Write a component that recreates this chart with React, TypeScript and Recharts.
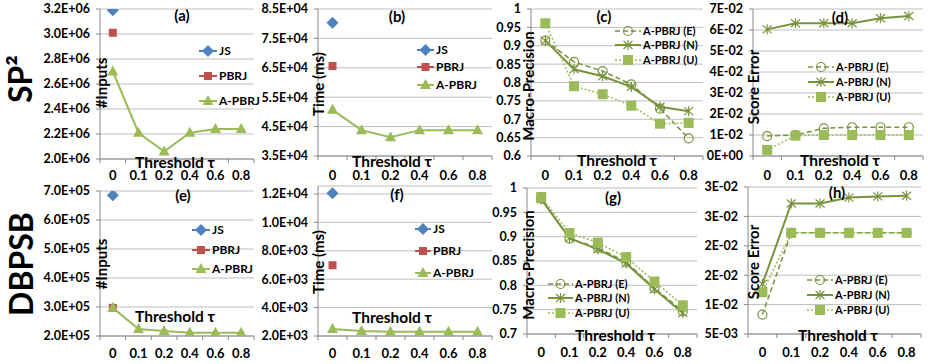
import { LineChart, Line, XAxis, YAxis, CartesianGrid } from 'recharts'

const thresholds = ['0', '0.1', '0.2', '0.4', '0.6', '0.8']

// SP2 dataset
const sp2InputsJS = [3190000, null, null, null, null, null]
const sp2InputsPBRJ = [3010000, null, null, null, null, null]
const sp2InputsAPBRJ = [2700000, 2210000, 2060000, 2210000, 2240000, 2240000]
const sp2TimeJS = [80300, null, null, null, null, null]
const sp2TimePBRJ = [65600, null, null, null, null, null]
const sp2TimeAPBRJ = [50700, 43800, 41400, 43800, 43800, 43800]
const sp2PrecE = [0.914, 0.856, 0.831, 0.795, 0.729, 0.648]
const sp2PrecN = [0.914, 0.836, 0.817, 0.788, 0.734, 0.722]
const sp2PrecU = [0.961, 0.79, 0.768, 0.737, 0.688, 0.69]
const sp2ErrE = [0.0095, 0.01, 0.0132, 0.0137, 0.0137, 0.0137]
const sp2ErrN = [0.0603, 0.0632, 0.0632, 0.0632, 0.0656, 0.0667]
const sp2ErrU = [0.0029, 0.0097, 0.01, 0.01, 0.01, 0.01]

// DBPSB dataset
const dbInputsJS = [685000, null, null, null, null, null]
const dbInputsPBRJ = [297000, null, null, null, null, null]
const dbInputsAPBRJ = [297000, 224000, 217000, 211000, 211000, 211000]
const dbTimeJS = [12050, null, null, null, null, null]
const dbTimePBRJ = [6980, null, null, null, null, null]
const dbTimeAPBRJ = [2500, 2350, 2300, 2300, 2300, 2300]
const dbPrecE = [0.978, 0.896, 0.877, 0.848, 0.794, 0.747]
const dbPrecN = [0.977, 0.897, 0.874, 0.845, 0.792, 0.743]
const dbPrecU = [0.9815, 0.9075, 0.888, 0.858, 0.808, 0.759]
const dbErrE = [0.0083, 0.0222, 0.0222, 0.0222, 0.0222, 0.0222]
const dbErrN = [0.0135, 0.0272, 0.0272, 0.0282, 0.0284, 0.0285]
const dbErrU = [0.0121, 0.0222, 0.0222, 0.0222, 0.0222, 0.0222]

// y-axis ticks and their labels
const ticksA = [2000000, 2200000, 2400000, 2600000, 2800000, 3000000, 3200000]
const labelsA = ['2.0E+06', '2.2E+06', '2.4E+06', '2.6E+06', '2.8E+06', '3.0E+06', '3.2E+06']
const ticksB = [35000, 45000, 55000, 65000, 75000, 85000]
const labelsB = ['3.5E+04', '4.5E+04', '5.5E+04', '6.5E+04', '7.5E+04', '8.5E+04']
const ticksC = [0.6, 0.65, 0.7, 0.75, 0.8, 0.85, 0.9, 0.95, 1]
const labelsC = ['0.6', '0.65', '0.7', '0.75', '0.8', '0.85', '0.9', '0.95', '1']
const ticksD = [0, 0.01, 0.02, 0.03, 0.04, 0.05, 0.06, 0.07]
const labelsD = ['0E+00', '1E-02', '2E-02', '3E-02', '4E-02', '5E-02', '6E-02', '7E-02']
const ticksE = [200000, 300000, 400000, 500000, 600000, 700000]
const labelsE = ['2.0E+05', '3.0E+05', '4.0E+05', '5.0E+05', '6.0E+05', '7.0E+05']
const ticksF = [2000, 4000, 6000, 8000, 10000, 12000]
const labelsF = ['2.0E+03', '4.0E+03', '6.0E+03', '8.0E+03', '1.0E+04', '1.2E+04']
const ticksG = [0.7, 0.75, 0.8, 0.85, 0.9, 0.95, 1]
const labelsG = ['0.7', '0.75', '0.8', '0.85', '0.9', '0.95', '1']
const ticksH = [0.005, 0.01, 0.015, 0.02, 0.025, 0.03]
const labelsH = ['5E-03', '1E-02', '2E-02', '2E-02', '3E-02', '3E-02']

const BLUE = '#4F81BD'
const RED = '#C0504D'
const GREEN = '#9BBB59'
const OLIVE = '#77933C'
const AXIS = '#888888'
const GRID = '#BEBEBE'
const FONT = 'Lato, "Open Sans", sans-serif'

type MarkerKind = 'diamond' | 'square' | 'triangle' | 'circle' | 'star' | 'block'

interface Series {
  name: string
  values: (number | null)[]
  color: string
  marker: MarkerKind
  width: number
  dash?: string
}

const js = (values: (number | null)[]): Series => ({ name: 'JS', values, color: BLUE, marker: 'diamond', width: 2 })
const pbrj = (values: (number | null)[]): Series => ({ name: 'PBRJ', values, color: RED, marker: 'square', width: 2 })
const apbrj = (values: (number | null)[]): Series => ({ name: 'A-PBRJ', values, color: GREEN, marker: 'triangle', width: 2 })
const varE = (values: number[]): Series => ({ name: 'A-PBRJ (E)', values, color: OLIVE, marker: 'circle', width: 1.5, dash: '5 3' })
const varN = (values: number[]): Series => ({ name: 'A-PBRJ (N)', values, color: OLIVE, marker: 'star', width: 2 })
const varU = (values: number[]): Series => ({ name: 'A-PBRJ (U)', values, color: GREEN, marker: 'block', width: 1.5, dash: '2 2' })

interface PanelCfg {
  title: string
  rect: [number, number, number, number]
  yDomain: [number, number]
  yTicks: number[]
  yLabels: string[]
  yTitle: string
  yTitlePos: [number, number]
  titlePos: [number, number]
  xTitlePos: [number, number]
  xGap: number
  legendX: number
  legendRows: number[]
  legendLine: number
  legendFont: number
  series: Series[]
}

const panels: PanelCfg[] = [
  {
    title: '(a)', rect: [100, 9, 254, 159], yDomain: [2000000, 3200000], yTicks: ticksA, yLabels: labelsA,
    yTitle: '#Inputs', yTitlePos: [101, 83], titlePos: [182, 15], xTitlePos: [175, 163], xGap: 16,
    legendX: 199, legendRows: [51, 76, 101], legendLine: 18, legendFont: 12,
    series: [js(sp2InputsJS), pbrj(sp2InputsPBRJ), apbrj(sp2InputsAPBRJ)],
  },
  {
    title: '(b)', rect: [318, 9, 492, 156], yDomain: [35000, 85000], yTicks: ticksB, yLabels: labelsB,
    yTitle: 'Time (ms)', yTitlePos: [318, 84], titlePos: [397, 16], xTitlePos: [392, 162], xGap: 19,
    legendX: 417, legendRows: [50, 67, 85], legendLine: 17, legendFont: 12,
    series: [js(sp2TimeJS), pbrj(sp2TimePBRJ), apbrj(sp2TimeAPBRJ)],
  },
  {
    title: '(c)', rect: [531, 9, 703, 156], yDomain: [0.6, 1], yTicks: ticksC, yLabels: labelsC,
    yTitle: 'Macro-Precision', yTitlePos: [528, 86], titlePos: [604, 16], xTitlePos: [617, 161], xGap: 19,
    legendX: 615, legendRows: [31, 45, 60], legendLine: 26, legendFont: 11,
    series: [varE(sp2PrecE), varN(sp2PrecN), varU(sp2PrecU)],
  },
  {
    title: '(d)', rect: [753, 9, 923, 156], yDomain: [0, 0.07], yTicks: ticksD, yLabels: labelsD,
    yTitle: 'Score Error', yTitlePos: [753, 87], titlePos: [840, 17], xTitlePos: [840, 161], xGap: 19,
    legendX: 808, legendRows: [67, 82, 97], legendLine: 26, legendFont: 11,
    series: [varE(sp2ErrE), varN(sp2ErrN), varU(sp2ErrU)],
  },
  {
    title: '(e)', rect: [100, 191, 254, 336], yDomain: [200000, 700000], yTicks: ticksE, yLabels: labelsE,
    yTitle: '#Inputs', yTitlePos: [101, 264], titlePos: [183, 195], xTitlePos: [175, 317], xGap: 17,
    legendX: 192, legendRows: [230, 250, 269], legendLine: 18, legendFont: 12,
    series: [js(dbInputsJS), pbrj(dbInputsPBRJ), apbrj(dbInputsAPBRJ)],
  },
  {
    title: '(f)', rect: [318, 186, 492, 336], yDomain: [2000, 12560], yTicks: ticksF, yLabels: labelsF,
    yTitle: 'Time (ms)', yTitlePos: [318, 262], titlePos: [397, 194], xTitlePos: [392, 318], xGap: 17,
    legendX: 415, legendRows: [229, 251, 273], legendLine: 16, legendFont: 12,
    series: [js(dbTimeJS), pbrj(dbTimePBRJ), apbrj(dbTimeAPBRJ)],
  },
  {
    title: '(g)', rect: [527, 188, 697, 334], yDomain: [0.7, 1], yTicks: ticksG, yLabels: labelsG,
    yTitle: 'Macro-Precision', yTitlePos: [528, 265], titlePos: [613, 197], xTitlePos: [615, 336], xGap: 18,
    legendX: 548, legendRows: [284, 298, 313], legendLine: 25, legendFont: 11,
    series: [varE(dbPrecE), varN(dbPrecN), varU(dbPrecU)],
  },
  {
    title: '(h)', rect: [748, 187, 921, 334], yDomain: [0.005, 0.03], yTicks: ticksH, yLabels: labelsH,
    yTitle: 'Score Error', yTitlePos: [753, 262], titlePos: [837, 192], xTitlePos: [838, 336], xGap: 18,
    legendX: 807, legendRows: [280, 295, 310], legendLine: 26, legendFont: 11,
    series: [varE(dbErrE), varN(dbErrN), varU(dbErrU)],
  },
]

function Marker({ kind, cx, cy, color }: { kind: MarkerKind; cx: number; cy: number; color: string }) {
  switch (kind) {
    case 'diamond':
      return <polygon points={`${cx},${cy - 6} ${cx + 6},${cy} ${cx},${cy + 6} ${cx - 6},${cy}`} fill={color} />
    case 'square':
      return <rect x={cx - 4} y={cy - 4} width={8} height={8} fill={color} />
    case 'triangle':
      return <polygon points={`${cx},${cy - 6} ${cx + 5.5},${cy + 4} ${cx - 5.5},${cy + 4}`} fill={color} />
    case 'circle':
      return <circle cx={cx} cy={cy} r={4.5} fill="none" stroke={color} strokeWidth={1.2} />
    case 'star':
      return (
        <g stroke={color} strokeWidth={1.2}>
          <line x1={cx} y1={cy - 5} x2={cx} y2={cy + 5} />
          <line x1={cx - 4.5} y1={cy - 4} x2={cx + 4.5} y2={cy + 4} />
          <line x1={cx - 4.5} y1={cy + 4} x2={cx + 4.5} y2={cy - 4} />
        </g>
      )
    default:
      return <rect x={cx - 5} y={cy - 5} width={10} height={10} fill={color} />
  }
}

// x tick: label centred below the axis plus Excel-style marks on category boundaries
function XTick(props: any) {
  const { x, y, payload, index, band, gap } = props
  const axisY = y - gap
  const last = index === thresholds.length - 1
  return (
    <g>
      <line x1={x - band / 2} y1={axisY} x2={x - band / 2} y2={axisY + 4} stroke={AXIS} />
      {last && <line x1={x + band / 2} y1={axisY} x2={x + band / 2} y2={axisY + 4} stroke={AXIS} />}
      <text x={x} y={y} textAnchor="middle" dominantBaseline="central" fontSize={13} fontWeight={700} fill="#000" fontFamily={FONT}>
        {payload.value}
      </text>
    </g>
  )
}

function Panel({ p }: { p: PanelCfg }) {
  const [x0, y0, x1, y1] = p.rect
  const YW = 75
  const MT = 10
  const XH = 30
  const band = (x1 - x0) / thresholds.length
  const data = thresholds.map((t, i) => {
    const row: Record<string, any> = { t }
    p.series.forEach((s, k) => {
      row['s' + k] = s.values[i]
    })
    return row
  })
  return (
    <div style={{ position: 'absolute', left: x0 - YW, top: y0 - MT }}>
      <LineChart
        width={YW + (x1 - x0) + 2}
        height={MT + (y1 - y0) + XH}
        data={data}
        margin={{ top: MT, right: 2, bottom: 0, left: 0 }}
      >
        <CartesianGrid vertical={false} stroke={GRID} />
        <XAxis
          dataKey="t"
          height={XH}
          padding={{ left: band / 2, right: band / 2 }}
          axisLine={{ stroke: AXIS }}
          tickLine={false}
          tickSize={0}
          tickMargin={p.xGap}
          interval={0}
          tick={<XTick band={band} gap={p.xGap} />}
        />
        <YAxis
          type="number"
          width={YW}
          domain={p.yDomain}
          ticks={p.yTicks}
          interval={0}
          allowDataOverflow
          axisLine={{ stroke: AXIS }}
          tickLine={{ stroke: AXIS }}
          tickSize={4}
          tickMargin={6}
          tickFormatter={(_v: number, i: number) => p.yLabels[i]}
          tick={{ fontSize: 12.5, fontWeight: 700, fill: '#000', fontFamily: FONT }}
        />
        {p.series.map((s, k) => (
          <Line
            key={s.name}
            dataKey={'s' + k}
            stroke={s.color}
            strokeWidth={s.width}
            strokeDasharray={s.dash}
            activeDot={false}
            isAnimationActive={false}
            dot={(d: any) =>
              d.value == null || d.cy == null ? (
                <g key={`${s.name}-${d.index}`} />
              ) : (
                <g key={`${s.name}-${d.index}`}>
                  <Marker kind={s.marker} cx={d.cx} cy={d.cy} color={s.color} />
                </g>
              )
            }
          />
        ))}
      </LineChart>
    </div>
  )
}

function Legend({ p }: { p: PanelCfg }) {
  const L = p.legendLine
  return (
    <>
      {p.series.map((s, k) => (
        <div
          key={s.name}
          style={{
            position: 'absolute',
            left: p.legendX,
            top: p.legendRows[k] - 7,
            height: 14,
            display: 'flex',
            alignItems: 'center',
            whiteSpace: 'nowrap',
          }}
        >
          <svg width={L} height={14} style={{ overflow: 'visible' }}>
            <line x1={0} y1={7} x2={L} y2={7} stroke={s.color} strokeWidth={s.width} strokeDasharray={s.dash} />
            <Marker kind={s.marker} cx={L / 2} cy={7} color={s.color} />
          </svg>
          <span style={{ fontSize: p.legendFont, fontWeight: 700, marginLeft: 2, lineHeight: '14px' }}>{s.name}</span>
        </div>
      ))}
    </>
  )
}

const centered = (x: number, y: number, extra: React.CSSProperties = {}): React.CSSProperties => ({
  position: 'absolute',
  left: x,
  top: y,
  transform: 'translate(-50%, -50%)',
  whiteSpace: 'nowrap',
  fontWeight: 700,
  lineHeight: 1,
  ...extra,
})

export default function App() {
  return (
    <div style={{ position: 'relative', width: 928, height: 364, background: '#fff', overflow: 'hidden', fontFamily: FONT, color: '#000' }}>
      <style>{'body{margin:0}'}</style>
      {panels.map((p) => (
        <Panel key={p.title} p={p} />
      ))}
      {panels.map((p) => (
        <div key={p.title + 'txt'}>
          <div style={centered(p.titlePos[0], p.titlePos[1], { fontSize: 15 })}>{p.title}</div>
          <div style={centered(p.xTitlePos[0], p.xTitlePos[1], { fontSize: 15.5 })}>Threshold τ</div>
          <div style={centered(p.yTitlePos[0], p.yTitlePos[1], { fontSize: 15, transform: 'translate(-50%, -50%) rotate(-90deg)' })}>
            {p.yTitle}
          </div>
          <Legend p={p} />
        </div>
      ))}
      <div style={centered(20, 79, { fontSize: 32, transform: 'translate(-50%, -50%) rotate(-90deg)' })}>SP²</div>
      <div style={centered(21, 264, { fontSize: 32, transform: 'translate(-50%, -50%) rotate(-90deg)' })}>DBPSB</div>
    </div>
  )
}
